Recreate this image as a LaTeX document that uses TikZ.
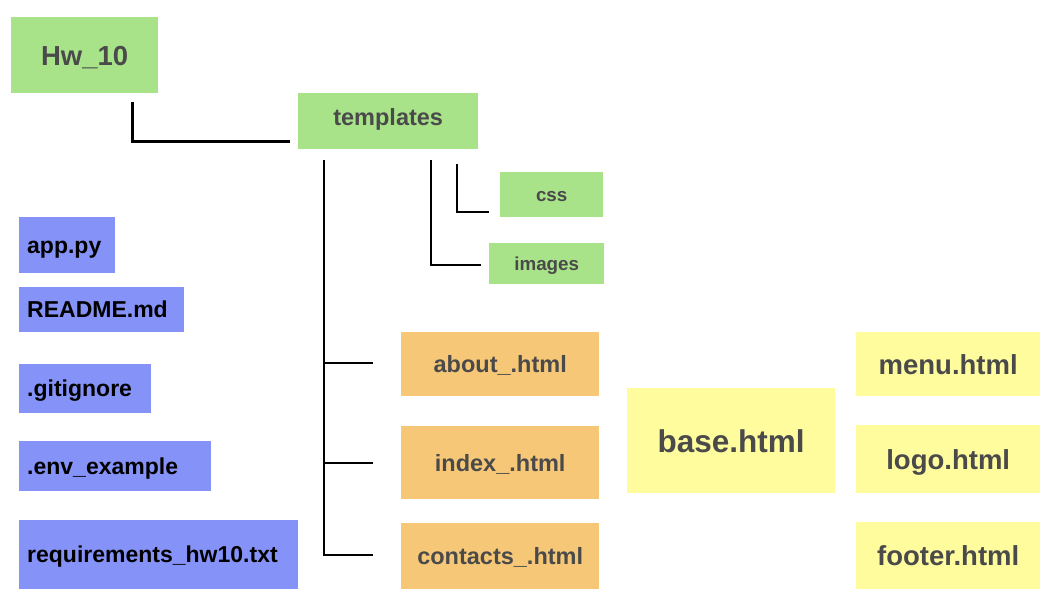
\documentclass[tikz,border=0pt]{standalone}
\usepackage{fontspec}
\setmainfont{Liberation Sans}
\usetikzlibrary{calc}
\definecolor{gbox}{HTML}{A8E38A}
\definecolor{bbox}{HTML}{8592F7}
\definecolor{obox}{HTML}{F5C777}
\definecolor{ybox}{HTML}{FFFC9E}
\definecolor{tgray}{HTML}{4A4A4A}
\tikzset{
  fbox/.style 2 args={rectangle, anchor=north west, inner sep=0pt,
    minimum width=#1pt, minimum height=#2pt, text depth=0pt},
  fsz/.style={font=\bfseries\fontsize{#1}{#1}\selectfont, text height=0.72*#1 pt},
  folder/.style={fill=gbox, text=tgray},
  file/.style={fill=bbox, text=black, fsz=23, align=left},
  page/.style={fill=obox, text=tgray, fsz=23.5},
  part/.style={fill=ybox, text=tgray, fsz=27.5},
  link/.style={line width=2pt, black},
}
\begin{document}
\begin{tikzpicture}[x=1pt,y=-1pt]
\useasboundingbox (0,0) rectangle (1064,612);
% folders
\node[fbox={147}{76}, folder, fsz=27.5] (hw) at (11,17) {Hw\_10};
\node[fbox={180}{56}, folder, fsz=23.5, text depth=9pt] (tpl) at (298,93) {templates};
\node[fbox={103}{45}, folder, fsz=18.8] (css) at (500,172) {css};
\node[fbox={115}{41}, folder, fsz=18.8] (img) at (489,243) {images};
% root files
\node[fbox={96}{56}, file, text width=80pt, inner xsep=8pt] (app) at (19,217) {app.py};
\node[fbox={165}{45}, file, text width=149pt, inner xsep=8pt] (readme) at (19,287) {README.md};
\node[fbox={132}{49}, file, text width=116pt, inner xsep=8pt] (git) at (19,364) {.gitignore};
\node[fbox={192}{50}, file, text width=176pt, inner xsep=8pt] (env) at (19,441) {.env\_example};
\node[fbox={279}{69}, file, text width=263pt, inner xsep=8pt] (req) at (19,520) {requirements\_hw10.txt};
% pages
\node[fbox={198}{64}, page] (about) at (401,332) {about\_.html};
\node[fbox={198}{73}, page] (index) at (401,426) {index\_.html};
\node[fbox={198}{66}, page] (contacts) at (401,523) {contacts\_.html};
% parts
\node[fbox={208}{105}, part, fsz=31.5] (base) at (627,388) {base.html};
\node[fbox={184}{64}, part] (menu) at (856,332) {menu.html};
\node[fbox={184}{68}, part] (logo) at (856,425) {logo.html};
\node[fbox={184}{67}, part] (footer) at (856,522) {footer.html};
% connector coordinates
\coordinate (hwS) at ($(hw.south west)+(121,9)$);
\coordinate (hwE) at ($(tpl.west)+(-8,20)$);
\coordinate (tT) at ($(tpl.south west)+(26,11)$);
\coordinate (aE) at ($(about.west)+(-28,-1)$);
\coordinate (iE) at ($(index.west)+(-28,0.5)$);
\coordinate (cE) at ($(contacts.west)+(-28,-1)$);
\coordinate (tB) at (tT |- cE);
\coordinate (imT) at ($(tpl.south west)+(133,11)$);
\coordinate (imE) at ($(img.west)+(-8,1.5)$);
\coordinate (csT) at ($(tpl.south west)+(159,15)$);
\coordinate (csE) at ($(css.west)+(-11,17.5)$);
% connectors
\draw[line width=3pt] (hwS) -- (hwS |- hwE) -- (hwE);
\draw[link] (tT) -- (tB) -- (cE);
\draw[link] (tT |- aE) -- (aE);
\draw[link] (tT |- iE) -- (iE);
\draw[link] (imT) -- (imT |- imE) -- (imE);
\draw[link] (csT) -- (csT |- csE) -- (csE);
\end{tikzpicture}
\end{document}
